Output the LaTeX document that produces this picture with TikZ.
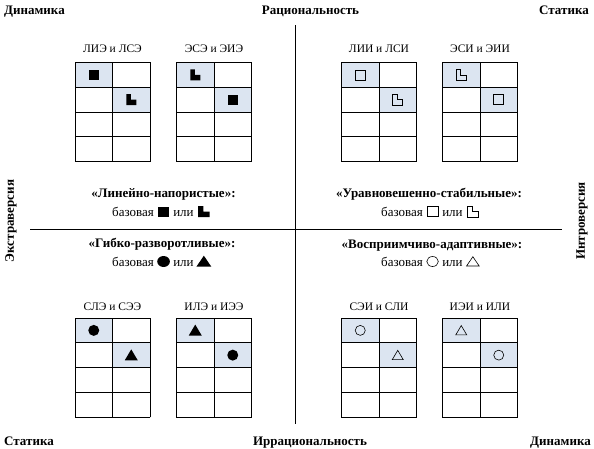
\documentclass[tikz,border=0pt]{standalone}
\usepackage{fontspec}
\setmainfont{Liberation Serif}
\definecolor{cellblue}{RGB}{220,229,241}
\tikzset{
 lbl/.style={inner sep=0pt, font=\fontsize{13}{15}\selectfont\bfseries},
 txt/.style={inner sep=0pt, font=\fontsize{13}{15}\selectfont},
 ttl/.style={inner sep=0pt, font=\fontsize{11.5}{13}\selectfont},
 gridline/.style={line width=0.8pt, line cap=rect},
 axis/.style={line width=0.8pt},
 sym/.style={line width=0.6pt},
 fsq/.pic={\fill (-5,-5) rectangle (5,5);},
 osq/.pic={\draw[sym] (-5,-5) rectangle (5,5);},
 fL/.pic={\fill (-5,-5.5) -- (-0.5,-5.5) -- (-0.5,0) -- (5,0) -- (5,5.5) -- (-5,5.5) -- cycle;},
 oL/.pic={\draw[sym] (-5,-5.5) -- (-0.5,-5.5) -- (-0.5,0) -- (5,0) -- (5,5.5) -- (-5,5.5) -- cycle;},
 fcirc/.pic={\fill (0,0) circle (5.5);},
 ocirc/.pic={\draw[sym] (0,0) circle (5);},
 ftri/.pic={\fill (0,-5.8) -- (6.5,5.2) -- (-6.5,5.2) -- cycle;},
 otri/.pic={\draw[sym,line join=miter] (0,-4.8) -- (5.5,4.5) -- (-5.5,4.5) -- cycle;},
}
\newcommand\quadgrid[7]{%
 \begin{scope}[shift={(#2,#3)}]
  \fill[cellblue] (0,0) rectangle (37.5,24.75);
  \fill[cellblue] (37.5,24.75) rectangle (75,49.5);
  \foreach \yy in {0,24.75,49.5,74.25,99} \draw[gridline] (0,\yy) -- (75,\yy);
  \foreach \xx in {0,37.5,75} \draw[gridline] (\xx,0) -- (\xx,99);
  \node[ttl, anchor=base] (#1) at (37.5,#7) {#4};
  \pic at (18.75,12.375) {#5};
  \pic at (56.25,37.125) {#6};
 \end{scope}}
\newcommand\baserow[5]{%
 \node[txt, anchor=base west] (#1b) at (#2,#3) {базовая};
 \pic[xscale=1.15] at ([xshift=9.5pt,yshift=4.5pt]#1b.base east) {#4};
 \node[txt, anchor=base west] (#1i) at ([xshift=19pt]#1b.base east) {или};
 \pic[xscale=1.15] at ([xshift=10pt,yshift=4.5pt]#1i.base east) {#5};}
\begin{document}
\begin{tikzpicture}[x=1pt,y=-1pt]
\useasboundingbox (0,0) rectangle (594,448);
% axes
\coordinate (vtop) at (295,25);
\coordinate (vbot) at (295,424);
\coordinate (hl) at (30,229.5);
\coordinate (hr) at (562,229.5);
\draw[axis] (vtop) -- (vbot);
\draw[axis] (hl) -- (hr);
% corner labels
\node[lbl, anchor=base west] (dynTL) at (4,14.5) {Динамика};
\node[lbl, anchor=base] (rat) at (310.5,14.5) {Рациональность};
\node[lbl, anchor=base east] (statTR) at (589,14.5) {Статика};
\node[lbl, anchor=base west] (statBL) at (4,445) {Статика};
\node[lbl, anchor=base] (irr) at (310,445) {Иррациональность};
\node[lbl, anchor=base east] (dynBR) at (591,445) {Динамика};
\node[lbl, rotate=90] (extra) at (11,221) {Экстраверсия};
\node[lbl, rotate=90] (intro) at (582,221) {Интроверсия};
% grids
\quadgrid{g1}{75}{62.5}{ЛИЭ и ЛСЭ}{fsq}{fL}{-10.5}
\quadgrid{g2}{176.5}{62.5}{ЭСЭ и ЭИЭ}{fL}{fsq}{-10.5}
\quadgrid{g3}{341.5}{62.5}{ЛИИ и ЛСИ}{osq}{oL}{-10.5}
\quadgrid{g4}{442.5}{62.5}{ЭСИ и ЭИИ}{oL}{osq}{-10.5}
\quadgrid{g5}{75}{318}{СЛЭ и СЭЭ}{fcirc}{ftri}{-7.5}
\quadgrid{g6}{176.5}{318}{ИЛЭ и ИЭЭ}{ftri}{fcirc}{-7.5}
\quadgrid{g7}{341.5}{318}{СЭИ и СЛИ}{ocirc}{otri}{-7.5}
\quadgrid{g8}{442.5}{318}{ИЭИ и ИЛИ}{otri}{ocirc}{-7.5}
% categories
\node[lbl, anchor=base] (cat1) at (163.5,197) {«Линейно-напористые»:};
\baserow{r1}{112}{216}{fsq}{fL}
\node[lbl, anchor=base] (cat2) at (162,247) {«Гибко-разворотливые»:};
\baserow{r2}{112}{266}{fcirc}{ftri}
\node[lbl, anchor=base] (cat3) at (429,197) {«Уравновешенно-стабильные»:};
\baserow{r3}{381}{216}{osq}{oL}
\node[lbl, anchor=base] (cat4) at (432,248) {«Восприимчиво-адаптивные»:};
\baserow{r4}{381}{266}{ocirc}{otri}
\end{tikzpicture}
\end{document}
